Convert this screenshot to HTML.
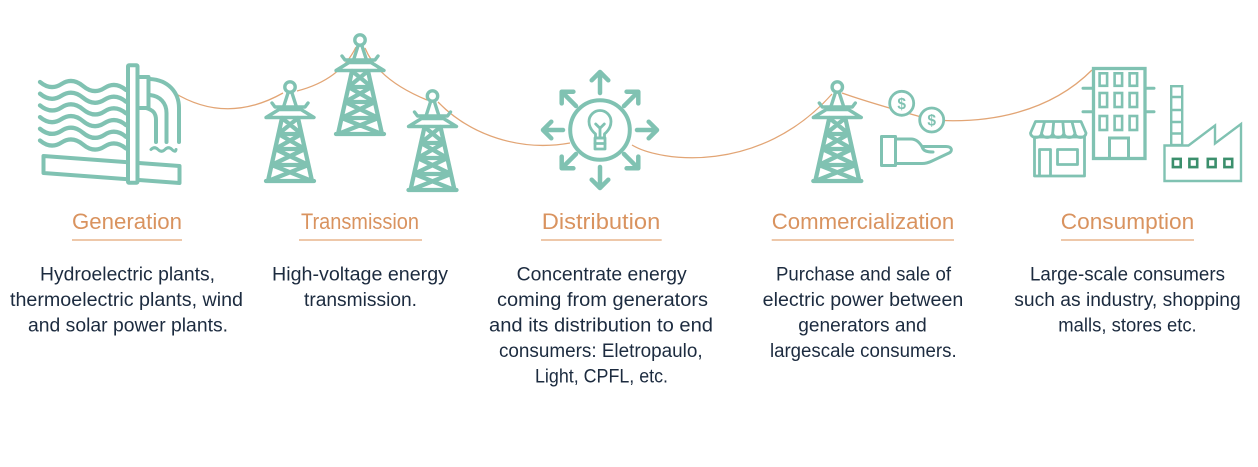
<!DOCTYPE html>
<html>
<head>
<meta charset="utf-8">
<style>
  html,body{margin:0;padding:0;background:#ffffff;}
  body{width:1258px;height:467px;overflow:hidden;}
  svg{display:block;}
  .h{font-family:"Liberation Sans",Arial,sans-serif;font-size:22px;fill:#d9935f;}
  .b{font-family:"Liberation Sans",Arial,sans-serif;font-size:19px;fill:#1c2b3f;}
</style>
</head>
<body>
<svg width="1258" height="467" viewBox="0 0 1258 467" xmlns="http://www.w3.org/2000/svg">
  <rect width="1258" height="467" fill="#ffffff"/>

  <!-- power line -->
  <g fill="none" stroke="#e2a575" stroke-width="1.3">
    <path d="M173,92 Q226,125 283,93"/>
    <path d="M297,91 Q340,80 356,47"/>
    <path d="M365,48 Q378,80 427,100"/>
    <path d="M438,102 C470,135 520,152 570,143"/>
    <path d="M632,145 C660,162 760,175 832,94"/>
    <path d="M842,93 Q870,103 932,120"/>
    <path d="M932,120 C990,124 1050,112 1092,70"/>
  </g>

  <!-- ===== Generation: hydro dam ===== -->
  <g fill="none" stroke="#80c2b2" stroke-linecap="round" stroke-linejoin="round">
    <g stroke-width="4.3">
      <path d="M40,82 q10.75,9 21.5,2 t21.5,2 t21.5,2 t21.5,2"/>
      <path d="M40,93.7 q10.75,9 21.5,2 t21.5,2 t21.5,2 t21.5,2"/>
      <path d="M40,105.4 q10.75,9 21.5,2 t21.5,2 t21.5,2 t21.5,2"/>
      <path d="M40,117.1 q10.75,9 21.5,2 t21.5,2 t21.5,2 t21.5,2"/>
      <path d="M40,128.8 q10.75,9 21.5,2 t21.5,2 t21.5,2 t21.5,2"/>
      <path d="M40,140.5 q10.75,9 21.5,2 t21.5,2 t21.5,2 t21.5,2"/>
    </g>
    <path d="M43.5,156 L179.5,166 L179.5,183 L43.5,173 Z" stroke-width="4"/>
    <path d="M150,79 C168,80 179,92 179,108 L179,142" stroke-width="4"/>
    <path d="M150,95 C160,96 166.5,103 166.5,113 L166.5,142" stroke-width="4"/>
    <path d="M146,108 C153,110 156,113 156,120 L156,142" stroke-width="4"/>
    <path d="M151,149.5 q3.5,-3.5 7,0 t7,0 t7,0 t4,0" stroke-width="3"/>
    <rect x="137.5" y="77" width="11" height="31" fill="#ffffff" stroke-width="4"/>
    <rect x="128" y="65.3" width="9.5" height="117.5" rx="1" fill="#ffffff" stroke-width="4"/>
  </g>

  <!-- ===== Towers ===== -->
  <g fill="none" stroke="#80c2b2" stroke-linecap="round" stroke-linejoin="round">
    <g transform="translate(290,87)">
      <circle r="5.2" stroke-width="3.4" fill="#fff"/>
      <path d="M-2,6 L-6.5,20 M2,6 L6.5,20" stroke-width="3.4"/>
      <path d="M-18,16 L-15,20 L15,20 L18,16" stroke-width="3.4"/>
      <path d="M-11,22.5 L11,22.5 L24,30.5 L-24,30.5 Z" stroke-width="3.4"/>
      <path d="M-8,31 L-22,94 M8,31 L22,94 M-24,94 L24,94 M-11.6,47 L11.6,47 M-14.9,62 L14.9,62 M-18.4,78 L18.4,78 M-8,31 L11.6,47 M8,31 L-11.6,47 M-11.6,47 L14.9,62 M11.6,47 L-14.9,62 M-14.9,62 L18.4,78 M14.9,62 L-18.4,78 M-18.4,78 L22,94 M18.4,78 L-22,94" stroke-width="4.3"/>
    </g>
    <g transform="translate(360,40)">
      <circle r="5.2" stroke-width="3.4" fill="#fff"/>
      <path d="M-2,6 L-6.5,20 M2,6 L6.5,20" stroke-width="3.4"/>
      <path d="M-18,16 L-15,20 L15,20 L18,16" stroke-width="3.4"/>
      <path d="M-11,22.5 L11,22.5 L24,30.5 L-24,30.5 Z" stroke-width="3.4"/>
      <path d="M-8,31 L-22,94 M8,31 L22,94 M-24,94 L24,94 M-11.6,47 L11.6,47 M-14.9,62 L14.9,62 M-18.4,78 L18.4,78 M-8,31 L11.6,47 M8,31 L-11.6,47 M-11.6,47 L14.9,62 M11.6,47 L-14.9,62 M-14.9,62 L18.4,78 M14.9,62 L-18.4,78 M-18.4,78 L22,94 M18.4,78 L-22,94" stroke-width="4.3"/>
    </g>
    <g transform="translate(432.5,96)">
      <circle r="5.2" stroke-width="3.4" fill="#fff"/>
      <path d="M-2,6 L-6.5,20 M2,6 L6.5,20" stroke-width="3.4"/>
      <path d="M-18,16 L-15,20 L15,20 L18,16" stroke-width="3.4"/>
      <path d="M-11,22.5 L11,22.5 L24,30.5 L-24,30.5 Z" stroke-width="3.4"/>
      <path d="M-8,31 L-22,94 M8,31 L22,94 M-24,94 L24,94 M-11.6,47 L11.6,47 M-14.9,62 L14.9,62 M-18.4,78 L18.4,78 M-8,31 L11.6,47 M8,31 L-11.6,47 M-11.6,47 L14.9,62 M11.6,47 L-14.9,62 M-14.9,62 L18.4,78 M14.9,62 L-18.4,78 M-18.4,78 L22,94 M18.4,78 L-22,94" stroke-width="4.3"/>
    </g>
    <g transform="translate(837.3,87)">
      <circle r="5.2" stroke-width="3.4" fill="#fff"/>
      <path d="M-2,6 L-6.5,20 M2,6 L6.5,20" stroke-width="3.4"/>
      <path d="M-18,16 L-15,20 L15,20 L18,16" stroke-width="3.4"/>
      <path d="M-11,22.5 L11,22.5 L24,30.5 L-24,30.5 Z" stroke-width="3.4"/>
      <path d="M-8,31 L-22,94 M8,31 L22,94 M-24,94 L24,94 M-11.6,47 L11.6,47 M-14.9,62 L14.9,62 M-18.4,78 L18.4,78 M-8,31 L11.6,47 M8,31 L-11.6,47 M-11.6,47 L14.9,62 M11.6,47 L-14.9,62 M-14.9,62 L18.4,78 M14.9,62 L-18.4,78 M-18.4,78 L22,94 M18.4,78 L-22,94" stroke-width="4.3"/>
    </g>
  </g>

  <!-- ===== Distribution ===== -->
  <g fill="none" stroke="#80c2b2" stroke-linecap="round" stroke-linejoin="round">
    <circle cx="600" cy="130" r="29.8" stroke-width="4" fill="#ffffff"/>
    <g stroke-width="4.5">
      <path d="M600,93 L600,73 M591.7,80.3 L600,72 L608.3,80.3"/>
      <path d="M600,167 L600,187 M591.7,179.7 L600,188 L608.3,179.7"/>
      <path d="M563,130 L544,130 M551.3,121.7 L543,130 L551.3,138.3"/>
      <path d="M637,130 L656,130 M648.7,121.7 L657,130 L648.7,138.3"/>
      <path d="M576,106 L562.5,92.5 M573.4,91.7 L561.7,91.7 L561.7,103.4"/>
      <path d="M624,106 L637.5,92.5 M626.6,91.7 L638.3,91.7 L638.3,103.4"/>
      <path d="M576,154 L562.5,167.5 M573.4,168.3 L561.7,168.3 L561.7,156.6"/>
      <path d="M624,154 L637.5,167.5 M626.6,168.3 L638.3,168.3 L638.3,156.6"/>
    </g>
    <g stroke-width="2.8">
      <path d="M595.5,138 L595.5,134 C592,131 589,127 589,121.5 A11,11 0 0 1 611,121.5 C611,127 608,131 604.5,134 L604.5,138 Z"/>
      <rect x="595" y="138" width="10" height="11"/>
      <path d="M595,143.5 L605,143.5"/>
      <path d="M595.7,124 L600,128.3 L604.3,124 M600,128.3 L600,137"/>
    </g>
  </g>

  <!-- ===== Commercialization: coins & hand ===== -->
  <g fill="none" stroke="#80c2b2" stroke-linecap="round" stroke-linejoin="round">
    <circle cx="901.7" cy="103.3" r="12" stroke-width="2.8" fill="#ffffff"/>
    <circle cx="931.7" cy="120" r="12" stroke-width="2.8" fill="#ffffff"/>
    <rect x="881.5" y="136.5" width="14" height="29" stroke-width="3"/>
    <path d="M897,139 L911,139 C916,139 919,142 922,146.5 L946,146.5 C952,146.5 953,151 949,153 L932,161 C929,162.5 926,163.5 922,163.5 L897,163.5" stroke-width="3"/>
    <path d="M922,146.5 C923,151 927,152 933,152" stroke-width="3"/>
  </g>
  <text x="901.7" y="108.8" text-anchor="middle" font-family="Liberation Sans, Arial, sans-serif" font-weight="bold" font-size="15.5" fill="#80c2b2">$</text>
  <text x="931.7" y="125.5" text-anchor="middle" font-family="Liberation Sans, Arial, sans-serif" font-weight="bold" font-size="15.5" fill="#80c2b2">$</text>

  <!-- ===== Consumption ===== -->
  <g fill="none" stroke="#80c2b2" stroke-linejoin="miter">
    <rect x="1093.5" y="68.5" width="51.5" height="90" stroke-width="3.3" fill="#ffffff"/>
    <path d="M1083,88.3 L1093,88.3 M1083,111.7 L1093,111.7 M1146,88.3 L1154,88.3 M1146,111.7 L1154,111.7" stroke-width="3" stroke-linecap="round"/>
    <g stroke-width="2.6">
      <rect x="1099.6" y="73.3" width="7.5" height="12.5"/>
      <rect x="1114.6" y="73.3" width="7.5" height="12.5"/>
      <rect x="1129.6" y="73.3" width="7.5" height="12.5"/>
      <rect x="1099.6" y="93" width="7.5" height="14"/>
      <rect x="1114.6" y="93" width="7.5" height="14"/>
      <rect x="1129.6" y="93" width="7.5" height="14"/>
      <rect x="1099.6" y="116" width="7.5" height="14"/>
      <rect x="1114.6" y="116" width="7.5" height="14"/>
      <rect x="1129.6" y="116" width="7.5" height="14"/>
    </g>
    <path d="M1109.5,158.5 L1109.5,138 L1128.5,138 L1128.5,158.5" stroke-width="3"/>
    <g stroke-width="2.8" stroke-linejoin="round">
      <path d="M1030.5,133 L1035.5,121.5 L1081,121.5 L1086,133 a5.55,4.5 0 0 1 -11.1,0 a5.55,4.5 0 0 1 -11.1,0 a5.55,4.5 0 0 1 -11.1,0 a5.55,4.5 0 0 1 -11.1,0 a5.55,4.5 0 0 1 -11.1,0 Z" fill="#ffffff"/>
      <path d="M1044.6,121.5 L1041.6,133 M1053.7,121.5 L1052.7,133 M1062.8,121.5 L1063.8,133 M1071.9,121.5 L1074.9,133"/>
      <rect x="1034.5" y="137" width="50" height="39"/>
      <path d="M1039.5,176 L1039.5,149.5 L1050.5,149.5 L1050.5,176"/>
      <rect x="1057.5" y="149.5" width="20" height="15"/>
    </g>
    <g stroke-width="2.4">
      <rect x="1171.2" y="86.2" width="11" height="58.8"/>
      <path d="M1171.2,97 L1182.2,97 M1171.2,110 L1182.2,110 M1171.2,122 L1182.2,122 M1171.2,133.5 L1182.2,133.5"/>
      <path d="M1164.5,145.5 L1188.5,145.5 L1215,125.5 L1215,143.5 L1241,124 L1241,181 L1164.5,181 Z"/>
    </g>
    <g stroke="#3b8f6c" stroke-width="2.6">
      <rect x="1172.9" y="158.9" width="7.8" height="8.2"/>
      <rect x="1189.4" y="158.9" width="7.8" height="8.2"/>
      <rect x="1207.8" y="158.9" width="7.8" height="8.2"/>
      <rect x="1224.4" y="158.9" width="7.8" height="8.2"/>
    </g>
  </g>

  <!-- ===== Headings ===== -->
  <text class="h" x="127" y="229" text-anchor="middle" textLength="110" lengthAdjust="spacingAndGlyphs">Generation</text>
  <text class="h" x="360" y="229" text-anchor="middle" textLength="118" lengthAdjust="spacingAndGlyphs">Transmission</text>
  <text class="h" x="601" y="229" text-anchor="middle" textLength="118.5" lengthAdjust="spacingAndGlyphs">Distribution</text>
  <text class="h" x="863" y="229" text-anchor="middle" textLength="182.5" lengthAdjust="spacingAndGlyphs">Commercialization</text>
  <text class="h" x="1127.5" y="229" text-anchor="middle" textLength="133.5" lengthAdjust="spacingAndGlyphs">Consumption</text>

  <g stroke="#e3a878" stroke-width="1.2">
    <line x1="72" y1="240" x2="182" y2="240"/>
    <line x1="299" y1="240" x2="422" y2="240"/>
    <line x1="541" y1="240" x2="661.7" y2="240"/>
    <line x1="771.7" y1="240" x2="954" y2="240"/>
    <line x1="1061" y1="240" x2="1194" y2="240"/>
  </g>

  <!-- ===== Body text ===== -->
  <text class="b" x="127.5" y="280.5" text-anchor="middle" textLength="175" lengthAdjust="spacingAndGlyphs">Hydroelectric plants,</text>
  <text class="b" x="126.5" y="306" text-anchor="middle" textLength="233" lengthAdjust="spacingAndGlyphs">thermoelectric plants, wind</text>
  <text class="b" x="128" y="331.5" text-anchor="middle" textLength="200" lengthAdjust="spacingAndGlyphs">and solar power plants.</text>

  <text class="b" x="360" y="280.5" text-anchor="middle" textLength="176" lengthAdjust="spacingAndGlyphs">High-voltage energy</text>
  <text class="b" x="360.5" y="306" text-anchor="middle" textLength="113" lengthAdjust="spacingAndGlyphs">transmission.</text>

  <text class="b" x="601.7" y="280.5" text-anchor="middle" textLength="170" lengthAdjust="spacingAndGlyphs">Concentrate energy</text>
  <text class="b" x="602.5" y="306" text-anchor="middle" textLength="211" lengthAdjust="spacingAndGlyphs">coming from  generators</text>
  <text class="b" x="601" y="331.5" text-anchor="middle" textLength="224" lengthAdjust="spacingAndGlyphs">and its distribution to  end</text>
  <text class="b" x="600.8" y="357" text-anchor="middle" textLength="203.7" lengthAdjust="spacingAndGlyphs">consumers: Eletropaulo,</text>
  <text class="b" x="601.5" y="382.5" text-anchor="middle" textLength="133" lengthAdjust="spacingAndGlyphs">Light, CPFL, etc.</text>

  <text class="b" x="863.5" y="280.5" text-anchor="middle" textLength="175" lengthAdjust="spacingAndGlyphs">Purchase and sale of</text>
  <text class="b" x="863" y="306" text-anchor="middle" textLength="200.6" lengthAdjust="spacingAndGlyphs">electric power between</text>
  <text class="b" x="862.5" y="331.5" text-anchor="middle" textLength="128.4" lengthAdjust="spacingAndGlyphs">generators and</text>
  <text class="b" x="863.3" y="357" text-anchor="middle" textLength="186.7" lengthAdjust="spacingAndGlyphs">largescale consumers.</text>

  <text class="b" x="1127.5" y="280.5" text-anchor="middle" textLength="195" lengthAdjust="spacingAndGlyphs">Large-scale consumers</text>
  <text class="b" x="1127.5" y="306" text-anchor="middle" textLength="226.4" lengthAdjust="spacingAndGlyphs">such as industry, shopping</text>
  <text class="b" x="1127.5" y="331.5" text-anchor="middle" textLength="138.4" lengthAdjust="spacingAndGlyphs">malls, stores etc.</text>
</svg>
</body>
</html>
